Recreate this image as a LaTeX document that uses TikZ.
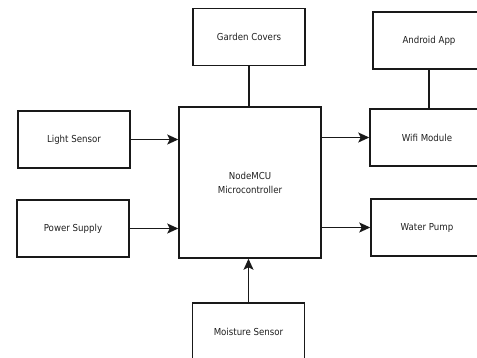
\documentclass[tikz,border=0pt]{standalone}
\usepackage{fontspec}
\setmainfont{DejaVu Sans Condensed}
\usetikzlibrary{arrows.meta}
\begin{document}
\begin{tikzpicture}[x=1pt,y=-1pt,
  blk/.style={draw=black!90,line width=1.5pt,minimum width=112pt,minimum height=57pt,inner sep=0pt,
    font=\fontsize{9.6}{14}\selectfont,text=black!88,align=center},
  arr/.style={line width=1.5pt,draw=black!90,-{Stealth[length=11pt,width=10pt,inset=2.5pt]}},
  ln/.style={line width=1.5pt,draw=black!90}]
\useasboundingbox (0,0) rectangle (477,357);
\clip (0,0) rectangle (477,357);
\node[blk] (garden) at (249,37) {Garden Covers};
\node[blk] (light) at (74,139.5) {Light Sensor};
\node[blk,minimum width=142pt,minimum height=151pt] (mcu) at (250,182.5) {NodeMCU\\Microcontroller};
\node[blk] (android) at (429,40.5) {Android App};
\node[blk,minimum width=114pt] (wifi) at (427,137.5) {Wifi Module};
\node[blk] (power) at (73,228.5) {Power Supply};
\node[blk] (water) at (427,227.5) {Water Pump};
\node[blk,minimum height=58pt] (moist) at (248.5,332) {Moisture Sensor};
\draw[arr] (light.east) -- (light.east -| mcu.west);
\draw[arr] (power.east) -- (power.east -| mcu.west);
\draw[arr] (wifi.west -| mcu.east) -- (wifi.west);
\draw[arr] (water.west -| mcu.east) -- (water.west);
\draw[arr] (moist.north) -- (moist.north |- mcu.south);
\draw[ln] (garden.south) -- (garden.south |- mcu.north);
\draw[ln] (android.south) -- (android.south |- wifi.north);
\end{tikzpicture}
\end{document}
